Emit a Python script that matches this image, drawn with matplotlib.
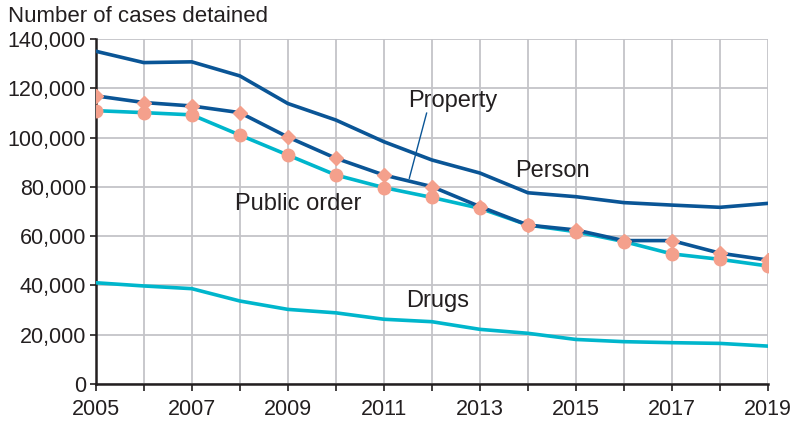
import matplotlib
matplotlib.use("Agg")
import matplotlib.pyplot as plt
from matplotlib.ticker import FuncFormatter

years = list(range(2005, 2020))
person = [135000, 130400, 130700, 125000, 113800, 107100, 98300, 90900, 85600,
          77600, 76000, 73600, 72600, 71700, 73300]
property_ = [116900, 114200, 112800, 110100, 100200, 91600, 84800, 80100, 72000,
             64500, 62500, 58200, 58200, 53100, 50300]
public_order = [110900, 110100, 109200, 101000, 92900, 84800, 79700, 75700, 71300,
                64500, 61800, 57800, 52800, 50600, 47900]
drugs = [41100, 39800, 38700, 33700, 30300, 28900, 26300, 25300, 22200,
         20600, 18100, 17200, 16800, 16500, 15400]

navy = "#0a5596"
cyan = "#00b6cc"
salmon = "#f4a08c"
tc = "#231f20"

plt.rcParams["font.family"] = ["Liberation Sans", "DejaVu Sans"]

fig = plt.figure(figsize=(8.05, 4.23), dpi=100)
ax = fig.add_axes([0.119, 0.092, 0.835, 0.816])

lw = 2.6
ax.plot(years, person, color=navy, lw=lw, zorder=3)
ax.plot(years, drugs, color=cyan, lw=lw, zorder=3)
ax.plot(years, public_order, color=cyan, lw=lw, zorder=3,
        marker="o", ms=9, mfc=salmon, mec=salmon)
ax.plot(years, property_, color=navy, lw=lw, zorder=4,
        marker="D", ms=7.5, mfc=salmon, mec=salmon)

ax.set_xlim(2005, 2019)
ax.set_ylim(0, 140000)
ax.set_xticks(range(2005, 2020), minor=True)
ax.set_xticks(range(2005, 2020, 2))
ax.set_yticks(range(0, 140001, 20000))
ax.yaxis.set_major_formatter(FuncFormatter(lambda v, p: f"{int(v):,}"))

ax.grid(True, which="both", axis="x", color="#c4c4c8", lw=1.3, zorder=0)
ax.grid(True, which="major", axis="y", color="#c4c4c8", lw=1.3, zorder=0)
ax.set_axisbelow(True)

for s in ["top", "right"]:
    ax.spines[s].set_visible(False)
for s in ["left", "bottom"]:
    ax.spines[s].set_color(tc)
    ax.spines[s].set_linewidth(1.8)

ax.tick_params(axis="both", which="both", color=tc, width=1.2,
               labelsize=15.5, labelcolor=tc, length=4)
ax.tick_params(axis="y", length=4, pad=3)
ax.tick_params(axis="x", which="both", length=5, pad=6)

fs = 17
ax.text(2011.5, 114900, "Property", fontsize=fs, color=tc, ha="left", va="center")
ax.text(2013.73, 86400, "Person", fontsize=fs, color=tc, ha="left", va="center")
ax.text(2007.9, 73100, "Public order", fontsize=fs, color=tc, ha="left", va="center")
ax.text(2011.46, 33700, "Drugs", fontsize=fs, color=tc, ha="left", va="center")
ax.plot([2011.89, 2011.53], [109900, 83500], color=navy, lw=1, zorder=5)

fig.text(8 / 805, 1 - 16 / 423, "Number of cases detained", fontsize=16,
         color=tc, ha="left", va="center")

fig.savefig("out.png", dpi=100)
